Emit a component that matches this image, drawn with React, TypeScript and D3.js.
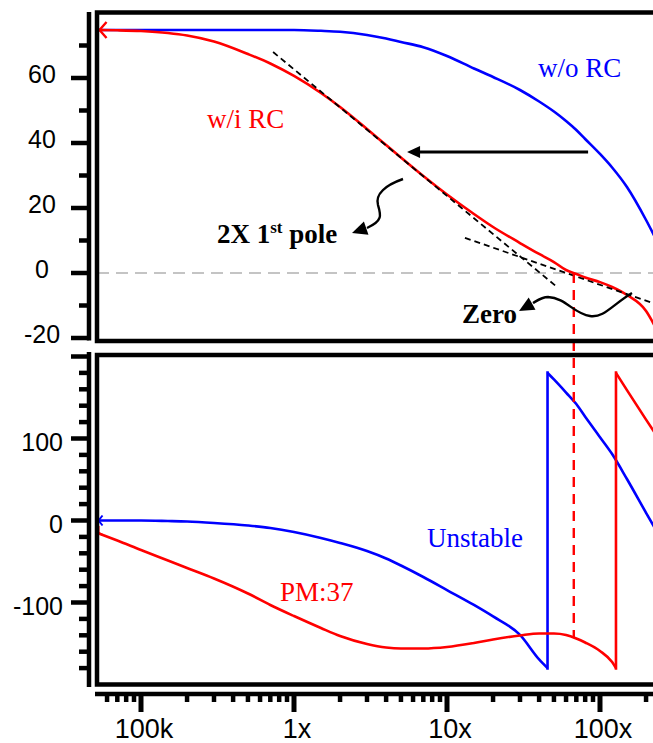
import React from "react";
import * as d3 from "d3";

// ---------- data ----------
const freqs = [52e3, 70e3, 1e5, 1.5e5, 2e5, 3e5, 5e5, 7e5, 1e6, 1.5e6, 2e6, 3e6, 4e6, 5e6, 7e6, 1e7, 1.5e7, 2e7, 3e7, 4e7, 5e7, 6e7, 7e7, 8e7, 1e8, 1.2e8, 1.5e8, 2e8, 2.3e8];
// gain in dB
const gainWithoutRC = [74.77, 74.77, 74.77, 74.77, 74.77, 74.77, 74.77, 74.77, 74.77, 74.52, 74.22, 73.23, 72.15, 71.08, 69.48, 66.77, 62.92, 60.31, 56.31, 52.77, 49.69, 46.77, 44.0, 41.23, 36.62, 32.46, 26.46, 16.31, 10.77];
const gainWithRC = [74.77, 74.68, 74.46, 73.85, 73.08, 71.23, 67.38, 64.46, 60.62, 55.38, 51.08, 44.31, 39.38, 35.54, 29.85, 24.15, 18.15, 14.15, 9.23, 5.85, 3.38, 0.92, -0.3, -1.4, -2.8, -4.31, -6.77, -11.69, -16.62];
// unwrapped phase in degrees (displayed wrapped at -180)
const phaseWithoutRC = [0, 0, 0, -0.6, -1.2, -3, -6.1, -9.1, -14, -21.3, -27.4, -37.2, -46.3, -54.9, -68.9, -84.8, -103, -117, -139.6, -169.5, -188, -204, -218, -233.4, -258.5, -279, -309.4, -350.6, -370.4];
const phaseWithRC = [-15.2, -24.4, -36, -48.8, -57.9, -70.7, -89, -103, -116.5, -131.1, -140.9, -150.6, -154.9, -156.1, -156.1, -154.3, -149.4, -145.1, -140.2, -137.8, -137.8, -139.6, -143.9, -148.8, -159.1, -172.6, -201, -237, -254.3];

const xTickValues = [1e5, 1e6, 1e7, 1e8];
const xTickLabels = ["100k", "1x", "10x", "100x"];
const gainTickValues = [60, 40, 20, 0, -20];
const gainTickLabels = ["60", "40", "20", "0", "-20"];
const phaseTickValues = [100, 0, -100];
const phaseTickLabels = ["100", "0", "-100"];

// ---------- layout ----------
const W = 653;
const H = 743;
const BLUE = "#0000ff";
const RED = "#ff0000";
const SANS = "'Liberation Sans', Arial, Helvetica, sans-serif";
const SERIF = "'Liberation Serif', 'Times New Roman', Times, serif";

const x = d3.scaleLog().domain([1e5, 1e8]).range([141, 600]);
const yGain = d3.scaleLinear().domain([-20, 60]).range([338, 78]);
const yPhase = d3.scaleLinear().domain([-100, 100]).range([602.5, 438.5]);

const FRAME_L = 97;
const TOP_T = 12.5;
const TOP_B = 341;
const BOT_T = 355;
const BOT_B = 684.5;
const AXIS_X = 89;
const AXIS_Y = 694;

type Pt = [number, number];

function wrapPhase(vals: number[]) {
  const segs: Pt[][] = [];
  const jumps: number[] = [];
  let cur: Pt[] = [];
  for (let i = 0; i < vals.length; i++) {
    const f = freqs[i];
    const v = vals[i];
    if (i > 0) {
      const pv = vals[i - 1];
      if (pv >= -180 && v < -180) {
        const t = (-180 - pv) / (v - pv);
        const lf0 = Math.log10(freqs[i - 1]);
        const lf = lf0 + t * (Math.log10(f) - lf0);
        const fc = Math.pow(10, lf);
        cur.push([fc, -180]);
        segs.push(cur);
        jumps.push(fc);
        cur = [[fc, 180]];
      }
    }
    cur.push([f, v < -180 ? v + 360 : v]);
  }
  segs.push(cur);
  return { segs, jumps };
}

function interpAt(vals: number[], f: number) {
  const lf = Math.log10(f);
  for (let i = 1; i < freqs.length; i++) {
    const a = Math.log10(freqs[i - 1]);
    const b = Math.log10(freqs[i]);
    if (lf >= a && lf <= b) {
      const t = (lf - a) / (b - a);
      return vals[i - 1] + t * (vals[i] - vals[i - 1]);
    }
  }
  return vals[vals.length - 1];
}

function crossing(vals: number[], level: number) {
  for (let i = 1; i < vals.length; i++) {
    if (vals[i - 1] >= level && vals[i] < level) {
      const a = Math.log10(freqs[i - 1]);
      const b = Math.log10(freqs[i]);
      const t = (level - vals[i - 1]) / (vals[i] - vals[i - 1]);
      return Math.pow(10, a + t * (b - a));
    }
  }
  return freqs[freqs.length - 1];
}

function arrowHead(tx: number, ty: number, fromX: number, fromY: number, len: number, hw: number) {
  const ang = Math.atan2(ty - fromY, tx - fromX);
  const bx = tx - len * Math.cos(ang);
  const by = ty - len * Math.sin(ang);
  const px = -Math.sin(ang) * hw;
  const py = Math.cos(ang) * hw;
  return `${tx},${ty} ${bx + px},${by + py} ${bx - px},${by - py}`;
}

export default function App() {
  const gainLine = (vals: number[]) =>
    d3
      .line<number>()
      .x((_, i) => x(freqs[i]))
      .y((d) => yGain(d))
      .curve(d3.curveMonotoneX)(vals) || "";

  const phaseLine = d3
    .line<Pt>()
    .x((d) => x(d[0]))
    .y((d) => yPhase(d[1]))
    .curve(d3.curveMonotoneX);

  const pBlue = wrapPhase(phaseWithoutRC);
  const pRed = wrapPhase(phaseWithRC);

  // crossover of the compensated loop
  const fc = crossing(gainWithRC, 0);
  const phaseAtFc = interpAt(phaseWithRC, fc);

  // minor ticks on x
  const xMinor: number[] = [];
  for (let dec = 4; dec <= 8; dec++) {
    for (let m = 2; m <= 9; m++) {
      const v = m * Math.pow(10, dec);
      const px = x(v);
      if (px >= 95 && px <= W + 2) xMinor.push(v);
    }
  }
  const gainTicksAll = d3.range(-20, 71, 10);
  const phaseTicksAll = d3.range(-180, 201, 20);

  // annotation anchors (data space)
  const tan1 = [[7.3e5, 68], [5.24e7, -4.3]];
  const tan2 = [[1.31e7, 10.8], [2.6e8, -10.4]];
  const arrowY = yGain(37.2);
  const arrowFrom = x(8.36e7);
  const arrowTip = x(5.48e6);

  const f0 = freqs[0];

  return (
    <svg
      width={W}
      height={H}
      viewBox={`0 0 ${W} ${H}`}
      style={{ position: "absolute", left: 0, top: 0, background: "#fff" }}
    >
      <defs>
        <clipPath id="clipTop">
          <rect x={FRAME_L} y={TOP_T} width={W} height={TOP_B - TOP_T} />
        </clipPath>
        <clipPath id="clipBot">
          <rect x={FRAME_L} y={BOT_T} width={W} height={BOT_B - BOT_T} />
        </clipPath>
      </defs>
      <rect x={0} y={0} width={W} height={H} fill="#fff" />

      {/* ---------------- top panel (gain) ---------------- */}
      <g clipPath="url(#clipTop)">
        <line x1={FRAME_L} x2={W + 10} y1={yGain(0)} y2={yGain(0)} stroke="#c4c4c4" strokeWidth={2} strokeDasharray="12 7" />
        <path d={gainLine(gainWithoutRC)} fill="none" stroke={BLUE} strokeWidth={2.6} />
        <path d={gainLine(gainWithRC)} fill="none" stroke={RED} strokeWidth={2.6} />
        {/* tangent asymptotes */}
        {[tan1, tan2].map((t, i) => (
          <line
            key={i}
            x1={x(t[0][0])}
            y1={yGain(t[0][1])}
            x2={x(t[1][0])}
            y2={yGain(t[1][1])}
            stroke="#000"
            strokeWidth={1.8}
            strokeDasharray="6 4"
          />
        ))}
        {/* start marker */}
        <polyline
          points={`${x(f0) + 9},${yGain(gainWithRC[0]) - 8} ${x(f0) + 2},${yGain(gainWithRC[0])} ${x(f0) + 9},${yGain(gainWithRC[0]) + 8}`}
          fill="none"
          stroke={RED}
          strokeWidth={2.4}
        />
      </g>

      {/* ---------------- bottom panel (phase) ---------------- */}
      <g clipPath="url(#clipBot)">
        {[pBlue, pRed].map((p, k) => (
          <g key={k}>
            {p.segs.map((s, i) => (
              <path key={i} d={phaseLine(s) || ""} fill="none" stroke={k === 0 ? BLUE : RED} strokeWidth={2.6} />
            ))}
            {p.jumps.map((fj, i) => (
              <line key={"j" + i} x1={x(fj)} x2={x(fj)} y1={yPhase(-182)} y2={yPhase(182)} stroke={k === 0 ? BLUE : RED} strokeWidth={2.6} />
            ))}
          </g>
        ))}
        <polyline
          points={`${x(f0) + 5},${yPhase(0) - 5} ${x(f0) + 1},${yPhase(0)} ${x(f0) + 5},${yPhase(0) + 5}`}
          fill="none"
          stroke={BLUE}
          strokeWidth={2}
        />
        <polyline
          points={`${x(f0) + 1},${yPhase(phaseWithRC[0]) - 7} ${x(f0) + 1},${yPhase(phaseWithRC[0])} ${x(f0) + 5},${yPhase(phaseWithRC[0]) + 2}`}
          fill="none"
          stroke={RED}
          strokeWidth={2}
        />
      </g>

      {/* crossover marker */}
      <line x1={x(fc)} x2={x(fc)} y1={yGain(0)} y2={yPhase(phaseAtFc)} stroke={RED} strokeWidth={2.4} strokeDasharray="10 7" />

      {/* frames */}
      <path d={`M${W + 10},${TOP_T} H${FRAME_L} V${TOP_B} H${W + 10}`} fill="none" stroke="#000" strokeWidth={4.5} />
      <path d={`M${W + 10},${BOT_T} H${FRAME_L} V${BOT_B} H${W + 10}`} fill="none" stroke="#000" strokeWidth={4.5} />

      {/* y axis (gain) */}
      <line x1={AXIS_X} x2={AXIS_X} y1={12} y2={340.5} stroke="#000" strokeWidth={4.5} />
      {gainTicksAll.map((v) => {
        const major = v % 20 === 0;
        return <line key={v} x1={major ? 71 : 79} x2={AXIS_X} y1={yGain(v)} y2={yGain(v)} stroke="#000" strokeWidth={4.5} />;
      })}
      {gainTickValues.map((v, i) => (
        <text key={v} x={42} y={yGain(v) + 4.5} textAnchor="middle" fontFamily={SANS} fontSize={25} fill="#000">
          {gainTickLabels[i]}
        </text>
      ))}

      {/* y axis (phase) */}
      <line x1={AXIS_X} x2={AXIS_X} y1={352} y2={687} stroke="#000" strokeWidth={4.5} />
      {phaseTicksAll.map((v) => {
        const major = v % 100 === 0;
        return <line key={v} x1={major ? 71 : 79} x2={AXIS_X} y1={yPhase(v)} y2={yPhase(v)} stroke="#000" strokeWidth={4.5} />;
      })}
      {phaseTickValues.map((v, i) => (
        <text key={v} x={63} y={yPhase(v) + 12} textAnchor="end" fontFamily={SANS} fontSize={25} fill="#000">
          {phaseTickLabels[i]}
        </text>
      ))}

      {/* x axis */}
      <line x1={95} x2={W + 10} y1={AXIS_Y} y2={AXIS_Y} stroke="#000" strokeWidth={4.5} />
      {xMinor.map((v) => (
        <line key={v} x1={x(v)} x2={x(v)} y1={AXIS_Y} y2={702} stroke="#000" strokeWidth={4.5} />
      ))}
      {xTickValues.map((v, i) => (
        <g key={v}>
          <line x1={x(v)} x2={x(v)} y1={AXIS_Y} y2={712} stroke="#000" strokeWidth={5} />
          <text x={x(v) + 3} y={738} textAnchor="middle" fontFamily={SANS} fontSize={27} fill="#000">
            {xTickLabels[i]}
          </text>
        </g>
      ))}

      {/* annotations */}
      <text x={207} y={128} fontFamily={SERIF} fontSize={27} fill={RED}>w/i RC</text>
      <text x={538} y={77} fontFamily={SERIF} fontSize={27} fill={BLUE}>w/o RC</text>
      <text x={427} y={547} fontFamily={SERIF} fontSize={27} fill={BLUE}>Unstable</text>
      <text x={280} y={601} fontFamily={SERIF} fontSize={27} fill={RED}>PM:37</text>
      <text x={217} y={243} fontFamily={SERIF} fontSize={27} fontWeight="bold" fill="#000">
        2X 1<tspan fontSize={17} dy={-10}>st</tspan>
        <tspan dy={10}> pole</tspan>
      </text>
      <text x={462} y={323} fontFamily={SERIF} fontSize={27} fontWeight="bold" fill="#000">Zero</text>

      {/* horizontal shift arrow */}
      <line x1={arrowFrom} x2={arrowTip + 10} y1={arrowY} y2={arrowY} stroke="#000" strokeWidth={3} />
      <polygon points={arrowHead(arrowTip, arrowY, arrowTip + 20, arrowY, 13, 6)} fill="#000" />

      {/* curly arrow to "2X 1st pole" */}
      <path d="M403,179 C386,185 375,194 378,205 C381,215 383,221 367,228" fill="none" stroke="#000" strokeWidth={2.4} />
      <polygon points={arrowHead(352, 233, 368, 227.5, 15, 7)} fill="#000" />

      {/* curly arrow to "Zero" */}
      <path d="M632,293 C612,305 604,318 590,316 C574,314 566,298 548,297 C542,297 538,300 533,303" fill="none" stroke="#000" strokeWidth={2.4} />
      <polygon points={arrowHead(519, 311, 536, 301.5, 15, 7)} fill="#000" />
    </svg>
  );
}
